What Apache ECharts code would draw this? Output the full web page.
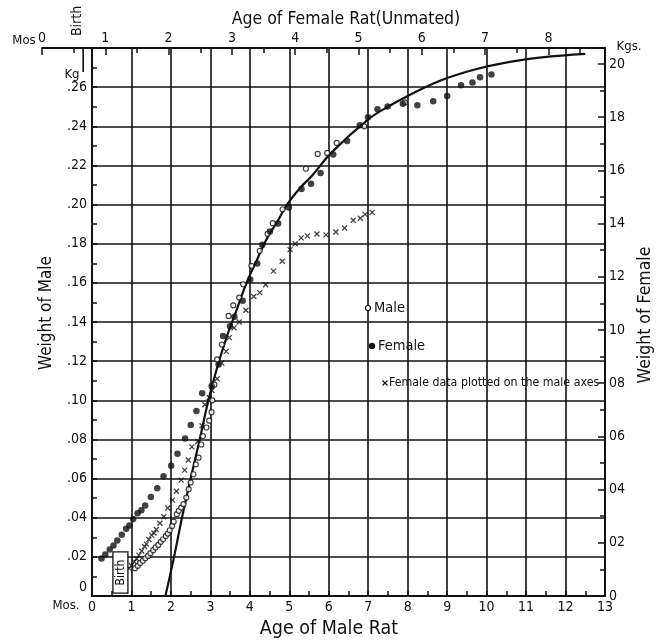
<!DOCTYPE html>
<html>
<head>
<meta charset="utf-8">
<script src="https://cdn.jsdelivr.net/npm/echarts@6/dist/echarts.min.js"></script>
<style>
html,body{margin:0;padding:0;background:#fff}
#chart{width:659px;height:642px}
</style>
</head>
<body>
<div id="chart"></div>
<script>
// Growth of the albino rat: male weight vs. age (bottom/left axes),
// female weight vs. age (top/right axes), and the female data re-plotted on the male axes.

// Male rat: age in months (from conception) and weight in kg
const maleAge = [1.09,1.16,1.22,1.29,1.35,1.42,1.48,1.55,1.61,1.68,1.74,1.80,1.87,1.92,1.97,2.03,2.07,2.15,2.20,2.26,2.32,2.39,2.45,2.50,2.57,2.63,2.70,2.77,2.81,2.90,2.97,3.03,3.05,3.10,3.17,3.29,3.46,3.58,3.73,3.83,4.04,4.25,4.45,4.58,4.83,5.42,5.72,5.96,6.20,6.90,7.93];
const maleKg  = [.0142,.0154,.0168,.0180,.0193,.0205,.0219,.0234,.0248,.0261,.0277,.0290,.0306,.0319,.0336,.0358,.0380,.0418,.0435,.0452,.0469,.0503,.0546,.0580,.0622,.0673,.0707,.0774,.0817,.0861,.0896,.0939,.1000,.1080,.1209,.1285,.1431,.1485,.1525,.1593,.1687,.1764,.1851,.1905,.1976,.2183,.2259,.2264,.2315,.2400,.2522];

// Female rat (unmated): age in months and weight in kg
const femaleAge = [0.94,1.00,1.07,1.13,1.19,1.26,1.33,1.38,1.44,1.51,1.57,1.63,1.72,1.82,1.92,2.04,2.14,2.26,2.35,2.44,2.53,2.68,2.79,2.86,2.97,3.04,3.17,3.29,3.40,3.48,3.60,3.73,3.90,4.10,4.25,4.40,4.60,4.82,5.02,5.15,5.30,5.46,5.70,5.93,6.18,6.40,6.62,6.80,6.92,7.10];
const femaleKg  = [.0141,.0156,.0175,.0190,.0209,.0230,.0253,.0265,.0289,.0311,.0322,.0340,.0372,.0405,.0450,.0490,.0535,.0592,.0643,.0695,.0762,.0789,.0870,.0977,.1014,.1050,.1110,.1190,.1250,.1320,.1370,.1400,.1460,.1530,.1550,.1590,.1660,.1710,.1770,.1800,.1830,.1840,.1850,.1845,.1860,.1880,.1920,.1930,.1950,.1960];

// Fitted growth curve on the male axes
const curveAge = [1.86,2.08,2.28,2.50,2.73,2.95,3.17,3.42,3.67,3.92,4.17,4.42,4.71,4.96,5.25,5.58,6.08,7.00,7.50,8.00,8.85,9.70,10.55,11.40,12.50];
const curveKg  = [0,.020,.040,.060,.080,.100,.1166,.1328,.1465,.1602,.1713,.1821,.1918,.2005,.2080,.2149,.2268,.2435,.2500,.2555,.2635,.2690,.2728,.2752,.2770];

// Ages at birth (months from conception)
const maleBirth = 0.72;
const femaleBirth = 0.65;

// Axis ranges and tick steps
const maleAgeMax = 13, maleKgMax = 0.28, maleKgStep = 0.02;
const femaleAgeMax = 8.894, femaleKgMax = 0.206, femaleKgStep = 0.02;

const FONT = "'Liberation Sans Narrow','DejaVu Sans Condensed','Liberation Sans',sans-serif";
const INK = '#111';

const zip = (a, b) => a.map((v, i) => [v, b[i]]);

const chart = echarts.init(document.getElementById('chart'), null, {renderer: 'canvas'});

const axisLineStyle = {color: INK, width: 2};
const tickStyle = {color: INK, width: 1.5};
const labelStyle = {color: INK, fontFamily: FONT, fontSize: 14};

chart.setOption({
  animation: false,
  backgroundColor: '#fff',
  grid: [
    {left: 92, right: 54, top: 48, bottom: 46, containLabel: false},
    {left: 42, right: 54, top: 48, bottom: 46, containLabel: false}
  ],
  xAxis: [
    {
      gridIndex: 0, type: 'value', position: 'bottom', min: 0, max: maleAgeMax, interval: 1,
      axisLine: {show: true, onZero: false, lineStyle: axisLineStyle},
      axisTick: {show: true, inside: true, length: 5, lineStyle: tickStyle},
      minorTick: {show: true, splitNumber: 2, length: 5, lineStyle: tickStyle},
      splitLine: {show: true, lineStyle: {color: INK, width: 1.6}},
      axisLabel: Object.assign({margin: 4}, labelStyle)
    },
    {
      gridIndex: 1, type: 'value', position: 'top', min: 0, max: femaleAgeMax, interval: 1,
      axisLine: {show: true, onZero: false, lineStyle: axisLineStyle},
      axisTick: {show: true, inside: true, length: 7, lineStyle: tickStyle},
      minorTick: {show: true, splitNumber: 2, length: 5, lineStyle: tickStyle},
      splitLine: {show: false},
      axisLabel: Object.assign({margin: 3, showMaxLabel: false}, labelStyle)
    }
  ],
  yAxis: [
    {
      gridIndex: 0, type: 'value', position: 'left', min: 0, max: maleKgMax, interval: maleKgStep,
      axisLine: {show: true, onZero: false, lineStyle: axisLineStyle},
      axisTick: {show: true, inside: true, length: 5, lineStyle: tickStyle},
      minorTick: {show: true, splitNumber: 2, length: 5, lineStyle: tickStyle},
      splitLine: {show: true, lineStyle: {color: INK, width: 1.6}},
      axisLabel: Object.assign({
        margin: 5, showMaxLabel: false,
        formatter: v => v === 0 ? '{z|0}' : '.' + String(Math.round(v * 100)).padStart(2, '0'),
        rich: {z: {fontFamily: FONT, fontSize: 14, color: INK, padding: [0, 0, 18, 0]}}
      }, labelStyle)
    },
    {
      gridIndex: 0, type: 'value', position: 'right', min: 0, max: femaleKgMax, interval: femaleKgStep,
      axisLine: {show: true, onZero: false, lineStyle: axisLineStyle},
      axisTick: {show: true, inside: true, length: 7, lineStyle: tickStyle},
      minorTick: {show: true, splitNumber: 2, length: 5, lineStyle: tickStyle},
      splitLine: {show: false},
      axisLabel: Object.assign({
        margin: 4, showMaxLabel: false,
        formatter: v => v === 0 ? '0' : String(Math.round(v * 100)).padStart(2, '0')
      }, labelStyle)
    },
    {
      gridIndex: 1, type: 'value', show: false, min: 0, max: femaleKgMax
    }
  ],
  series: [
    {
      name: 'curve', type: 'line', xAxisIndex: 0, yAxisIndex: 0,
      data: zip(curveAge, curveKg), smooth: 0.4, symbol: 'none',
      lineStyle: {color: INK, width: 2.2}, z: 3
    },
    {
      name: 'Female data plotted on the male axes', type: 'scatter', xAxisIndex: 0, yAxisIndex: 0,
      data: zip(femaleAge, femaleKg),
      symbol: 'path://M0 0L10 10M10 0L0 10', symbolSize: 5,
      itemStyle: {color: 'rgba(0,0,0,0)', borderColor: INK, borderWidth: 1.3}, z: 4
    },
    {
      name: 'Male', type: 'scatter', xAxisIndex: 0, yAxisIndex: 0,
      data: zip(maleAge, maleKg), symbol: 'circle', symbolSize: 5,
      itemStyle: {color: '#fff', borderColor: INK, borderWidth: 1.2}, z: 5
    },
    {
      name: 'Female', type: 'scatter', xAxisIndex: 1, yAxisIndex: 2,
      data: zip(femaleAge, femaleKg), symbol: 'circle', symbolSize: 6.5,
      itemStyle: {color: INK}, z: 6
    }
  ]
});

// Annotations: titles, unit marks, birth markers and the key
function txt(x, y, text, size, opts) {
  opts = opts || {};
  return {
    type: 'text', x: x, y: y, z: 100,
    rotation: opts.rotation || 0,
    style: {
      text: text, fill: INK, font: size + 'px ' + FONT,
      align: opts.align || 'center', verticalAlign: 'middle'
    }
  };
}
function seg(x1, y1, x2, y2, w) {
  return {type: 'line', z: 100, shape: {x1: x1, y1: y1, x2: x2, y2: y2}, style: {stroke: INK, lineWidth: w}};
}

const topBirthX = chart.convertToPixel({xAxisIndex: 1}, femaleBirth);
const botBirthL = chart.convertToPixel({xAxisIndex: 0}, maleBirth - 0.19);
const botBirthR = chart.convertToPixel({xAxisIndex: 0}, maleBirth + 0.19);
const botBirthT = chart.convertToPixel({yAxisIndex: 0}, 0.0225);
const botBirthB = chart.convertToPixel({yAxisIndex: 0}, 0.0015);
const topAxisY = chart.convertToPixel({yAxisIndex: 2}, femaleKgMax);

const graphics = [
  txt(346, 19, 'Age of Female Rat(Unmated)', 17.5),
  txt(24, 41, 'Mos', 13),
  txt(329, 629, 'Age of Male Rat', 19.5),
  txt(66, 606, 'Mos.', 13),
  txt(72, 75, 'Kg', 13),
  txt(629, 47, 'Kgs.', 13),
  txt(47, 313, 'Weight of Male', 17, {rotation: Math.PI / 2}),
  txt(645, 315, 'Weight of Female', 17.5, {rotation: Math.PI / 2}),
  // birth on the female age scale
  seg(topBirthX, topAxisY, topBirthX, topAxisY + 24, 1.6),
  txt(topBirthX - 6, 21, 'Birth', 14, {rotation: Math.PI / 2}),
  // birth on the male age scale
  {type: 'rect', z: 100, shape: {x: botBirthL, y: botBirthT, width: botBirthR - botBirthL, height: botBirthB - botBirthT},
   style: {fill: '#fff', stroke: INK, lineWidth: 1.3}},
  txt((botBirthL + botBirthR) / 2, (botBirthT + botBirthB) / 2, 'Birth', 12, {rotation: Math.PI / 2}),
  // key
  {type: 'circle', z: 100, shape: {cx: 368, cy: 308, r: 2.5}, style: {fill: '#fff', stroke: INK, lineWidth: 1.2}},
  txt(374, 308, 'Male', 14.5, {align: 'left'}),
  {type: 'circle', z: 100, shape: {cx: 372, cy: 346, r: 3.2}, style: {fill: INK}},
  txt(378, 346, 'Female', 14.5, {align: 'left'}),
  seg(382.5, 380.5, 387.5, 385.5, 1.2),
  seg(387.5, 380.5, 382.5, 385.5, 1.2),
  txt(389, 383, 'Female data plotted on the male axes', 12.3, {align: 'left'})
];

chart.setOption({graphic: graphics});
</script>
</body>
</html>
